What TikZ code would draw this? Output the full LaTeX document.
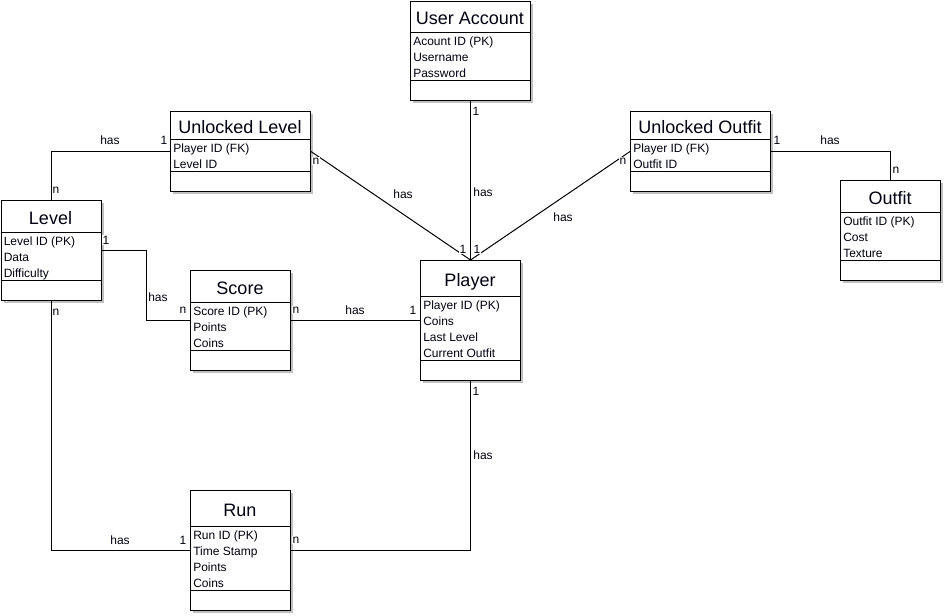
\documentclass[tikz,border=0pt]{standalone}
\usepackage{fontspec}
\setmainfont{Liberation Sans}
\definecolor{erdtext}{RGB}{0,0,16}
\definecolor{shadowgrey}{RGB}{192,192,192}

\begin{document}
\begin{tikzpicture}[x=0.75pt,y=-0.75pt,
  entity/.style={draw,line width=0.75pt,fill=white,inner sep=0pt,anchor=north west},
  etitle/.style={anchor=base,inner sep=0pt,text=erdtext,font=\fontsize{13.5}{16}\selectfont},
  eattr/.style={anchor=base west,inner sep=0pt,text=erdtext,font=\fontsize{9}{11}\selectfont},
  rel/.style={line width=0.75pt},
  card/.style={fill=white,inner sep=0.5pt,text=erdtext,font=\fontsize{9}{11}\selectfont}]
\useasboundingbox (0,0) rectangle (945,615);
\foreach \ename/\ex/\ey/\ew/\eh/\en/\etitle/\eattrs in {
  acc/410/0.5/120/32/3/{User Account}/{Acount ID (PK),Username,Password},
  ulev/170/111/140/139/2/{Unlocked Level}/{Player ID (FK),Level ID},
  lev/0.5/200/100/232/3/{Level}/{Level ID (PK),Data,Difficulty},
  score/190/270/100/302/3/{Score}/{Score ID (PK),Points,Coins},
  player/420/260/100/296/4/{Player}/{Player ID (PK),Coins,Last Level,Current Outfit},
  uout/630/111/140/139/2/{Unlocked Outfit}/{Player ID (FK),Outfit ID},
  outfit/840/180/100/212/3/{Outfit}/{Outfit ID (PK),Cost,Texture},
  run/190/490/100/526/4/{Run}/{Run ID (PK),Time Stamp,Points,Coins}}{
  \pgfmathsetmacro{\esep}{\eh+16*\en}
  \pgfmathsetmacro{\ebot}{\esep+20}
  \fill[shadowgrey] ({\ex+3},{\ey+3}) rectangle ({\ex+\ew+3},{\ebot+3});
  \node[entity,minimum width={\ew*0.75pt},minimum height={(\ebot-\ey)*0.75pt}] (\ename) at (\ex,\ey) {};
  \draw[rel] ({\ex},{\eh}) -- ({\ex+\ew},{\eh});
  \draw[rel] ({\ex},{\esep}) -- ({\ex+\ew},{\esep});
  \node[etitle] (\ename-t) at ({\ex+\ew/2},{(\ey+\eh)/2+8}) {\etitle};
  \foreach \a [count=\i] in \eattrs
    \node[eattr] (\ename-\i) at ({\ex+3},{\eh+13.5+16*(\i-1)}) {\a};
}
% relationships
\draw[rel] (ulev.west) -| (lev.north);
\draw[rel] (lev.east) -- ++(45,0) |- (score.west);
\draw[rel] (score.east) -- (player.west);
\draw[rel] (lev.south) |- (run.west);
\draw[rel] (run.east) -| (player.south);
\draw[rel] (acc.south) -- (player.north);
\draw[rel] (ulev.east) -- (player.north);
\draw[rel] (uout.west) -- (player.north);
\draw[rel] (uout.east) -| (outfit.north);
% cardinalities
\foreach \lx/\ly/\lt [count=\k] in {
  110/140/has, 164/140/1, 56/190/n,
  106/240/1, 158/297/has, 183/310/n,
  296/310/n, 355/310/has, 413/310/1,
  56/312/n, 120/540/has, 183/540/1,
  296/540/n, 483/455/has, 476/391/1,
  476/111/1, 483/192/has,
  316/161/n, 403/194/has, 463/249/1,
  623/161/n, 563/217/has, 477/249/1,
  777/140/1, 830/140/has, 896/170/n}
  \node[card] (lab\k) at (\lx,\ly) {\lt};
\end{tikzpicture}
\end{document}
